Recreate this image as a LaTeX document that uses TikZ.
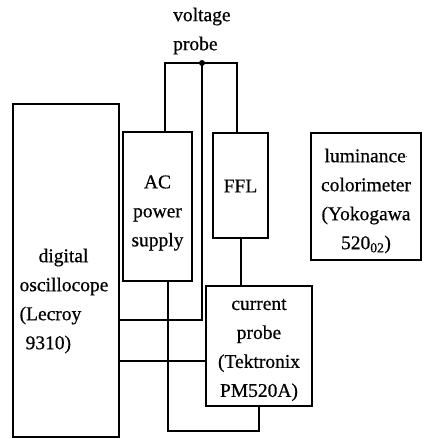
\documentclass[tikz,border=0pt]{standalone}
\usepackage{fontspec}
\setmainfont{Liberation Serif}[FakeBold=0.6]
\usepackage{tikz}
\usetikzlibrary{calc}
\tikzset{>=latex}
\tikzstyle{unit} = [rectangle, draw=black, line width=2pt, inner sep=0pt]
\tikzstyle{txt} = [inner sep=0pt, align=center, font=\fontsize{19.5}{29}\selectfont]
\tikzstyle{wire} = [line width=2pt]

\begin{document}
\begin{tikzpicture}[x=1pt, y=-1pt]
    \useasboundingbox (0,0) rectangle (423,439);
    % instruments
    \node[unit, minimum width=106pt, minimum height=333pt] (scope) at (66,270.5) {};
    \node[unit, minimum width=69pt, minimum height=149pt] (ac) at (157.5,206.5) {};
    \node[unit, minimum width=55pt, minimum height=105pt] (ffl) at (240.5,185.5) {};
    \node[unit, minimum width=110pt, minimum height=127pt] (lum) at (366,196.5) {};
    \node[unit, minimum width=106pt, minimum height=120pt] (cp) at (259,346) {};
    % labels
    \node[txt, align=left] (scopetxt) at (64,301) {\hspace*{19pt}digital\\oscillocope\\(Lecroy\\\hspace*{6pt}9310)};
    \node[txt] (actxt) at (157.5,213) {AC\\power\\supply};
    \node[txt] (ffltxt) at (240.5,186) {FFL};
    \node[txt] (lumtxt) at (366,201) {luminance\raisebox{4pt}{\tiny·}\\colorimeter\\(Yokogawa\\520\textsubscript{02})};
    \node[txt] (cptxt) at (259,350) {current\\probe\\(Tektronix\\PM520A)};
    \node[txt, align=left, anchor=west] (vptxt) at (173,31) {voltage\\probe};
    % voltage probe
    \coordinate (vl) at (165,63);
    \coordinate (vp) at (202,63);
    \coordinate (vr) at (237,63);
    \coordinate (vs) at (202,320);
    \draw[wire] (ac.north -| vl) -- (vl) -- (vr) -- (ffl.north -| vr);
    \draw[wire] (vp) -- (vs) -- (scope.east |- vs);
    \fill (vp) circle (3pt);
    % current probe
    \coordinate (ci) at (206,361);
    \coordinate (lo) at (168,431);
    \draw[wire] (ffl.south) -- (ffl.south |- cp.north);
    \draw[wire] (scope.east |- ci) -- (cp.west |- ci);
    \draw[wire] (ac.south -| lo) -- (lo) -| (cp.south);
\end{tikzpicture}
\end{document}
